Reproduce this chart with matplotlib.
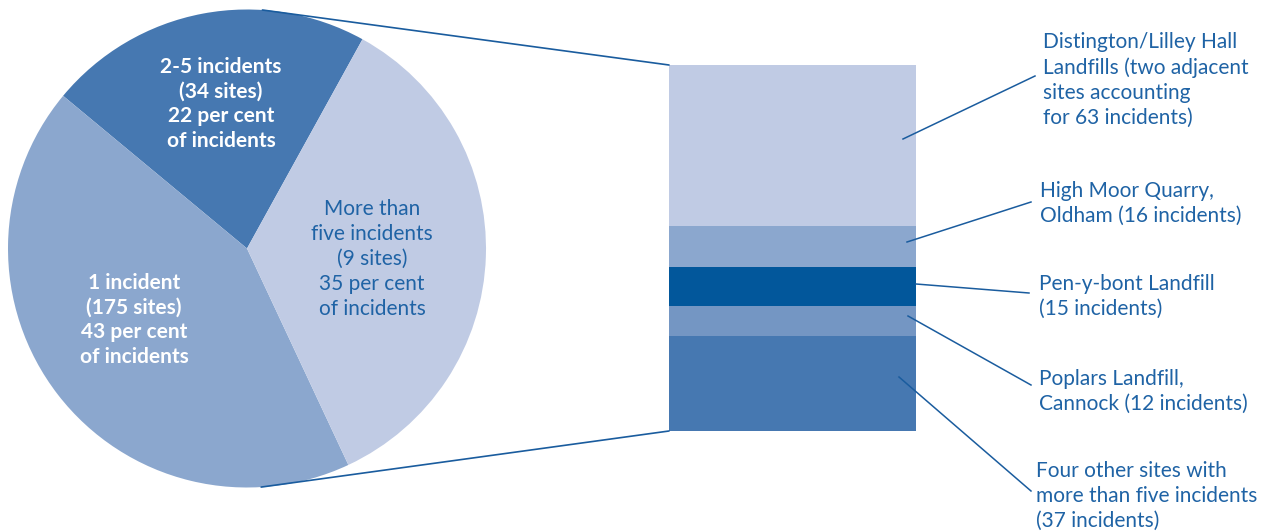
import matplotlib
matplotlib.use('Agg')
import matplotlib.pyplot as plt
from matplotlib.patches import ConnectionPatch
import numpy as np

# pie: share of incidents by number of incidents per site
pie_labels = ['2-5 incidents\n(34 sites)\n22 per cent\nof incidents',
              '1 incident\n(175 sites)\n43 per cent\nof incidents',
              'More than\nfive incidents\n(9 sites)\n35 per cent\nof incidents']
pie_share = [22, 43, 35]
pie_colors = ['#4678b1', '#8ba7ce', '#c0cbe4']
pie_text_colors = ['white', 'white', '#1f63a5']

# stacked bar: breakdown of the "more than five incidents" sites
bar_sites = ['Distington/Lilley Hall\nLandfills (two adjacent\nsites accounting\nfor 63 incidents)',
             'High Moor Quarry,\nOldham (16 incidents)',
             'Pen-y-bont Landfill\n(15 incidents)',
             'Poplars Landfill,\nCannock (12 incidents)',
             'Four other sites with\nmore than five incidents\n(37 incidents)']
bar_incidents = [63, 16, 15, 12, 37]
bar_colors = ['#c0cbe4', '#8ba7ce', '#02579b', '#7496c3', '#4678b1']

W, H = 1269, 532
txt_col = '#1f63a5'
line_col = '#1a5c9e'
plt.rcParams['font.family'] = ['Lato', 'DejaVu Sans']
fs = 15
lsp = 1.3

fig = plt.figure(figsize=(W / 100, H / 100), dpi=100)

# pie
cx, cy, r = 247, 248.5, 239
ax_pie = fig.add_axes([(cx - r) / W, (H - cy - r) / H, 2 * r / W, 2 * r / H])
wedges, _ = ax_pie.pie(pie_share, colors=pie_colors, startangle=61.1,
                       counterclock=True, radius=1, frame=True,
                       wedgeprops=dict(linewidth=0))
ax_pie.set_xlim(-1, 1)
ax_pie.set_ylim(-1, 1)
ax_pie.axis('off')

def px_to_pie(x, y):
    return ((x - cx) / r, (cy - y) / r)

label_pos = [(221, 104), (134, 320), (372, 259)]
for lab, (lx, ly), c in zip(pie_labels, label_pos, pie_text_colors):
    ax_pie.text(*px_to_pie(lx, ly), lab, ha='center', va='center', color=c,
                fontsize=fs, linespacing=lsp,
                fontweight='bold' if c == 'white' else 'normal')

# stacked bar
bx0, bx1, by0, by1 = 669, 916, 65, 431
ax_bar = fig.add_axes([bx0 / W, (H - by1) / H, (bx1 - bx0) / W, (by1 - by0) / H])
bottoms = np.concatenate([[0], np.cumsum(bar_incidents)[:-1]])
ax_bar.bar([0.5] * len(bar_incidents), bar_incidents, bottom=bottoms, width=1,
           color=bar_colors, linewidth=0)
ax_bar.set_xlim(0, 1)
ax_bar.set_ylim(sum(bar_incidents), 0)
ax_bar.axis('off')

# lines joining the pie to the bar
for ang, corner in [(86.3, (0, 1)), (-86.6, (0, 0))]:
    a = np.deg2rad(ang)
    con = ConnectionPatch(xyA=(np.cos(a), np.sin(a)), coordsA=ax_pie.transData,
                          xyB=corner, coordsB=ax_bar.transAxes,
                          color=line_col, linewidth=1.2)
    fig.add_artist(con)

# labels for the bar segments with leader lines
ax = fig.add_axes([0, 0, 1, 1], facecolor='none')
ax.set_xlim(0, W)
ax.set_ylim(H, 0)
ax.axis('off')
leaders = [((903, 139), (1035, 76)),
           ((907, 242), (1031, 202)),
           ((916, 284), (1029, 293)),
           ((908, 316), (1031, 385)),
           ((899, 377), (1031, 491))]
text_pos = [(1043, 80), (1040, 203), (1039, 296), (1039, 391), (1036, 496)]
for name, (p0, p1), (tx, ty) in zip(bar_sites, leaders, text_pos):
    ax.plot([p0[0], p1[0]], [p0[1], p1[1]], color=line_col, linewidth=1.1)
    ax.text(tx, ty, name, ha='left', va='center', color=txt_col, fontsize=fs,
            linespacing=lsp)

fig.savefig('out.png', dpi=100, facecolor='white')
